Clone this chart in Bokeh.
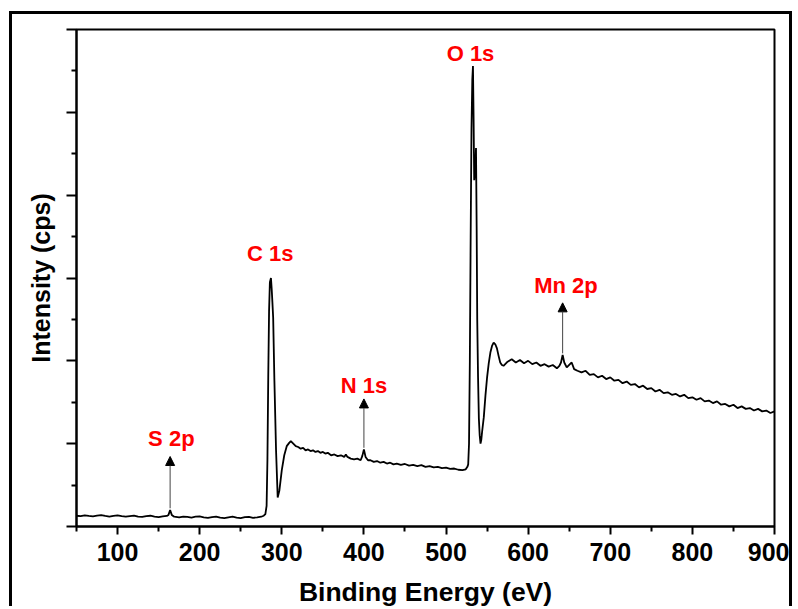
from bokeh.plotting import figure
from bokeh.models import Range1d, FixedTicker, Arrow, NormalHead, Label
from bokeh.embed import file_html
from bokeh.resources import INLINE

# ---------------- data (binding energy in eV, intensity in arbitrary units) -------------
be_low = [50, 55, 60, 65, 70, 75, 80, 85, 90, 95, 100, 105, 110, 115, 120, 125, 130, 135,
          140, 145, 150, 155, 160, 162, 164, 166, 169, 175, 180, 185, 190, 195, 200, 205,
          210, 215, 220, 225, 230, 235, 240, 245, 250, 255, 260, 265, 270, 275, 278]
int_low = [0.13, 0.125, 0.135, 0.128, 0.122, 0.13, 0.138, 0.127, 0.12, 0.128, 0.134, 0.124,
           0.118, 0.126, 0.132, 0.12, 0.115, 0.124, 0.13, 0.118, 0.112, 0.122, 0.128, 0.14,
           0.2, 0.14, 0.118, 0.11, 0.12, 0.115, 0.108, 0.118, 0.122, 0.11, 0.104, 0.114, 0.12,
           0.108, 0.1, 0.11, 0.118, 0.106, 0.1, 0.112, 0.116, 0.105, 0.11, 0.118, 0.13]

be_c1s = [280, 281.5, 282.5, 283.5, 284.5, 285.5, 286.8, 287.8, 288.6, 289.5, 291, 293, 295,
          297, 300, 303, 306, 309, 311]
int_c1s = [0.15, 0.25, 0.8, 1.8, 2.6, 2.95, 3.0, 2.85, 2.7, 2.52, 1.76, 0.92, 0.35, 0.43,
           0.68, 0.86, 0.97, 1.01, 1.03]

be_mid = [314, 317, 320, 323, 326, 329, 332, 335, 338, 341, 344, 347, 350, 353, 356, 360,
          364, 368, 372, 376, 378, 380, 384, 388, 392, 396, 398, 400, 402, 405, 408, 412,
          416, 420, 424, 428, 432, 436, 440, 445, 450, 455, 460, 465, 470, 475, 480, 485,
          490, 495, 500, 505, 510, 515, 520, 524, 526]
int_mid = [1.0, 0.97, 0.96, 0.94, 0.95, 0.92, 0.93, 0.91, 0.92, 0.9, 0.91, 0.89, 0.9, 0.88,
           0.89, 0.86, 0.87, 0.85, 0.86, 0.84, 0.87, 0.84, 0.82, 0.81, 0.82, 0.8, 0.85, 0.93,
           0.84, 0.8, 0.8, 0.78, 0.79, 0.77, 0.78, 0.76, 0.77, 0.75, 0.76, 0.745, 0.755,
           0.735, 0.745, 0.73, 0.74, 0.72, 0.73, 0.715, 0.72, 0.705, 0.71, 0.695, 0.7, 0.685,
           0.68, 0.69, 0.72]

be_o1s = [527, 528, 529, 530, 531, 532, 532.8, 533.6, 534.3, 535.5, 536.5, 537.3, 538,
          539, 540, 541, 542, 543, 544, 546, 548, 550, 552, 554, 556, 558, 560, 562, 564,
          566, 568, 570]
int_o1s = [0.75, 1.0, 2.0, 3.5, 4.8, 5.4, 5.56, 4.9, 4.18, 4.3, 4.57, 3.6, 2.5, 1.8, 1.3,
           1.1, 1.0, 1.05, 1.15, 1.32, 1.58, 1.8, 1.97, 2.1, 2.18, 2.22, 2.2, 2.15, 2.06,
           1.98, 1.95, 1.94]

be_high = [575, 580, 585, 590, 595, 600, 605, 610, 615, 620, 625, 630, 635, 638, 640, 642,
           644, 647, 650, 653, 656, 660, 665, 670, 675, 680, 685, 690, 695, 700, 705, 710,
           715, 720, 725, 730, 735, 740, 745, 750, 755, 760, 765, 770, 775, 780, 785, 790,
           795, 800, 805, 810, 815, 820, 825, 830, 835, 840, 845, 850, 855, 860, 865, 870,
           875, 880, 885, 890, 895, 900]
int_high = [1.99, 2.02, 1.98, 2.01, 1.97, 2.0, 1.96, 1.98, 1.94, 1.96, 1.93, 1.95, 1.91,
            1.94, 1.98, 2.07, 1.98, 1.92, 1.95, 1.98, 1.9, 1.88, 1.86, 1.88, 1.83, 1.84,
            1.8, 1.82, 1.78, 1.8, 1.76, 1.77, 1.73, 1.75, 1.71, 1.72, 1.68, 1.7, 1.66, 1.67,
            1.63, 1.65, 1.61, 1.62, 1.59, 1.6, 1.57, 1.59, 1.55, 1.56, 1.53, 1.55, 1.51,
            1.52, 1.49, 1.51, 1.47, 1.48, 1.45, 1.47, 1.43, 1.45, 1.42, 1.43, 1.4, 1.42,
            1.39, 1.4, 1.37, 1.39]

binding_energy = be_low + be_c1s + be_mid + be_o1s + be_high
intensity = int_low + int_c1s + int_mid + int_o1s + int_high

x_major = [100, 200, 300, 400, 500, 600, 700, 800, 900]
x_minor = [50, 150, 250, 350, 450, 550, 650, 750, 850]
y_major = [0, 1, 2, 3, 4, 5, 6]
y_minor = [0.5, 1.5, 2.5, 3.5, 4.5, 5.5]

# peak annotations
peak_names = ["S 2p", "C 1s", "N 1s", "O 1s", "Mn 2p"]
peak_energy = [164, 286.5, 400, 532.8, 642]
peak_top = [0.2, 3.0, 0.93, 5.56, 2.07]

# ---------------- layout of annotations (label x, label baseline y, arrow tip) -----------
label_x = [165.5, 286.0, 400.0, 529.8, 646.0]
label_y = [1.066, 3.30, 1.706, 5.706, 2.91]
has_arrow = [True, False, True, False, True]
arrow_tip = [0.845, None, 1.54, None, 2.70]

FONT = "Liberation Sans"

p = figure(width=783, height=595, output_backend="svg", toolbar_location=None,
           x_range=Range1d(50, 900), y_range=Range1d(0, 6),
           min_border_left=64, min_border_right=21, min_border_top=15, min_border_bottom=83)
# outer picture border (left, top and right edges; bottom edge is cut off in the original)
p.styles = {"margin-left": "9px", "margin-top": "11px",
            "border-left": "3px solid black", "border-top": "3px solid black",
            "border-right": "3px solid black"}
p.background_fill_color = "white"
p.border_fill_color = "white"
p.grid.visible = False
p.outline_line_color = "black"
p.outline_line_width = 2

p.line(binding_energy, intensity, line_color="black", line_width=1.8)

# x axis
xa = p.xaxis[0]
xa.ticker = FixedTicker(ticks=x_major, minor_ticks=x_minor)
xa.axis_label = "Binding Energy (eV)"
xa.axis_label_text_font = FONT
xa.axis_label_text_font_style = "bold"
xa.axis_label_text_font_size = "26.5px"
xa.axis_label_text_color = "black"
xa.axis_label_standoff = 13
xa.major_label_text_font = FONT
xa.major_label_text_font_style = "bold"
xa.major_label_text_font_size = "25px"
xa.major_label_text_color = "black"
xa.major_label_standoff = 8
xa.axis_line_width = 2
xa.axis_line_color = "black"
xa.major_tick_line_width = 2
xa.minor_tick_line_width = 2
xa.major_tick_in = 0
xa.major_tick_out = 8
xa.minor_tick_in = 0
xa.minor_tick_out = 5

# y axis (ticks without labels)
ya = p.yaxis[0]
ya.ticker = FixedTicker(ticks=y_major, minor_ticks=y_minor)
ya.major_label_overrides = {t: "" for t in y_major}
ya.axis_label = "Intensity (cps)"
ya.axis_label_text_font = FONT
ya.axis_label_text_font_style = "bold"
ya.axis_label_text_font_size = "25px"
ya.axis_label_text_color = "black"
ya.axis_label_standoff = 12
ya.major_label_standoff = 0
ya.axis_line_width = 2
ya.axis_line_color = "black"
ya.major_tick_line_width = 2
ya.minor_tick_line_width = 2
ya.major_tick_in = 0
ya.major_tick_out = 10
ya.minor_tick_in = 0
ya.minor_tick_out = 5

for name, e, top, lx, ly, arr, tip in zip(peak_names, peak_energy, peak_top,
                                          label_x, label_y, has_arrow, arrow_tip):
    p.add_layout(Label(x=lx, y=ly, text=name, text_align="center",
                       text_baseline="alphabetic", text_font=FONT,
                       text_font_style="bold", text_font_size="22px",
                       text_color="#ff0000"))
    if arr:
        p.add_layout(Arrow(x_start=e, y_start=top + 0.02, x_end=e, y_end=tip,
                           line_color="#444444", line_width=1,
                           end=NormalHead(size=9, fill_color="black",
                                          line_color="black", line_width=1)))

open("out.html", "w").write(file_html(p, INLINE))
